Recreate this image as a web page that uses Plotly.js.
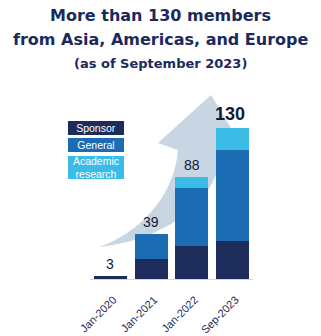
<!DOCTYPE html>
<html>
<head>
<meta charset="utf-8">
<script src="https://cdn.plot.ly/plotly-3.0.1.min.js"></script>
<style>html,body{margin:0;padding:0;background:#fff;}#chart{width:321px;height:336px;}</style>
</head>
<body>
<div id="chart"></div>
<script>
// ---- data ----
const categories = ["Jan-2020", "Jan-2021", "Jan-2022", "Sep-2023"];
const sponsor   = [3, 17, 28, 33];
const general   = [0, 22, 50, 78];
const academic  = [0, 0, 10, 19];
const totals    = [3, 39, 88, 130];
const seriesNames = ["Sponsor", "General", "Academic<br>research"];
const titleLines = ["More than 130 members", "from Asia, Americas, and Europe", "(as of September 2023)"];

// ---- styles ----
const NAVY = "#1b2a5c";
const colors = ["#1e2c5c", "#1b6cb2", "#3bbce6"];
const W = 321, H = 336;
const margin = {l: 90, r: 68, t: 60, b: 57, pad: 0};
const pw = W - margin.l - margin.r, ph = H - margin.t - margin.b;
const PX = x => (x - margin.l) / pw;
const PY = y => (H - margin.b - y) / ph;

const traces = [sponsor, general, academic].map((vals, i) => ({
  type: "bar", x: categories, y: vals, name: seriesNames[i],
  marker: {color: colors[i], line: {width: 0}}, hoverinfo: "skip"
}));

const annotations = [];
// title lines
const titleY = [15, 39, 63], titleSize = [16, 16, 13];
titleLines.forEach((t, i) => annotations.push({
  xref: "paper", yref: "paper", x: PX(160.5), y: PY(titleY[i]), xanchor: "center", yanchor: "middle",
  text: "<b>" + t + "</b>", showarrow: false,
  font: {family: "DejaVu Sans", size: titleSize[i], color: NAVY}
}));
// total labels
totals.forEach((v, i) => annotations.push({
  x: categories[i], y: v, xref: "x", yref: "y", yanchor: "bottom", yshift: 2,
  xshift: i === 3 ? -3 : 0,
  text: i === 3 ? "<b>" + v + "</b>" : String(v), showarrow: false,
  font: {family: "Liberation Sans, Arial", size: i === 3 ? 18 : 14, color: "#111a33"}
}));
// custom legend boxes
const legY = [127.5, 145, 167], legH = [14, 14, 23];
seriesNames.forEach((n, i) => annotations.push({
  xref: "paper", yref: "paper", x: PX(96), y: PY(legY[i]), xanchor: "center", yanchor: "middle",
  text: n, showarrow: false, bgcolor: colors[i], width: 56, height: legH[i], borderpad: 0, borderwidth: 0,
  font: {family: "Liberation Sans, Arial", size: 10.5, color: "#ffffff"}
}));

// decorative growth arrow (pixel points -> paper)
const P = (x, y) => PX(x).toFixed(4) + "," + PY(y).toFixed(4);
const arrowPath = "M" + P(99, 247) +
  " C" + P(150, 242) + " " + P(200, 215) + " " + P(216, 175) +
  " L" + P(222, 150) + " L" + P(240, 143) + " L" + P(211, 95) +
  " L" + P(158, 143) + " L" + P(178, 150) +
  " C" + P(174, 200) + " " + P(135, 235) + " " + P(99, 247) + " Z";

const layout = {
  width: W, height: H, margin: margin,
  paper_bgcolor: "#ffffff", plot_bgcolor: "rgba(0,0,0,0)",
  barmode: "stack", bargap: 0.19, showlegend: false,
  font: {family: "Liberation Sans, Arial", color: NAVY},
  xaxis: {
    type: "category", range: [-0.5, 3.5], tickangle: -45, ticks: "",
    tickfont: {size: 11, color: NAVY, family: "Liberation Sans, Arial"},
    ticklabelstandoff: 9, ticklabelshift: 3,
    showline: true, linecolor: "#d6d6d6", linewidth: 1, showgrid: false, zeroline: false, fixedrange: true
  },
  yaxis: {range: [0, ph / 1.1638], visible: false, showgrid: false, zeroline: false, fixedrange: true},
  shapes: [{type: "path", xref: "paper", yref: "paper", path: arrowPath, layer: "below",
            fillcolor: "#c8d5e3", line: {width: 0}}],
  annotations: annotations
};

Plotly.newPlot("chart", traces, layout, {displayModeBar: false, staticPlot: true});
</script>
</body>
</html>
